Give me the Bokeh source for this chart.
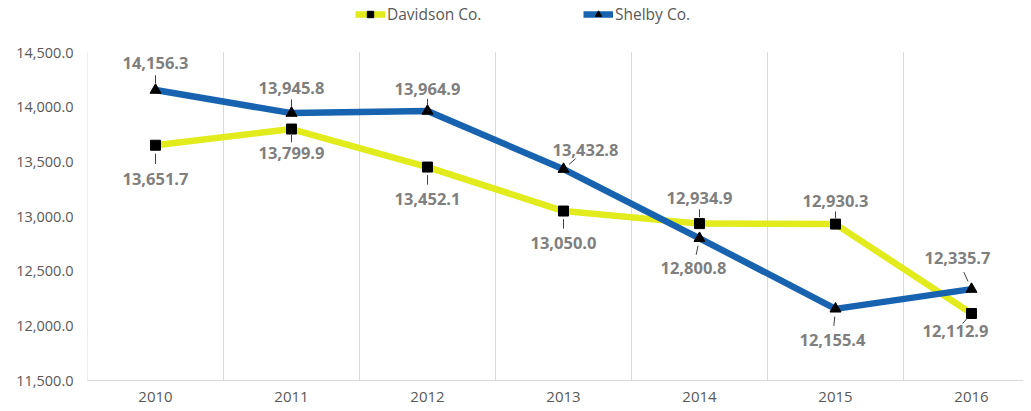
from bokeh.plotting import figure
from bokeh.models import (ColumnDataSource, FixedTicker, Legend, LegendItem,
                          NumeralTickFormatter, Range1d)
from bokeh.core.properties import value
from bokeh.embed import file_html
from bokeh.resources import INLINE

years = ["2010", "2011", "2012", "2013", "2014", "2015", "2016"]
davidson = [13651.7, 13799.9, 13452.1, 13050.0, 12934.9, 12930.3, 12112.9]
shelby = [14156.3, 13945.8, 13964.9, 13432.8, 12800.8, 12155.4, 12335.7]
y_ticks = [11500, 12000, 12500, 13000, 13500, 14000, 14500]
y_min, y_max = 11500, 14500

# label offsets in pixels (dx, dy) - screen down is positive dy
dav_off = [(0, 34), (0, 24), (0, 32), (0, 32), (0, -26), (0, -23), (-16, 18)]
she_off = [(0, -27), (0, -25), (0, -22), (22, -19), (-6, 30), (-3, 31), (-14, -31)]

YELLOW = "#E2EB1C"
BLUE = "#1763B0"
GRAY_TXT = "#7F7F7F"
AXIS_TXT = "#595959"
FONT = "Open Sans"

xs = list(range(len(years)))

W, H = 1023, 409
LEFT, BOTTOM = 87, 29
TOP_PAD = 52          # pixels above the 14,500 level inside the frame
PLOT_H = H - BOTTOM - TOP_PAD
px_y = PLOT_H / float(y_max - y_min)
frame_w = W - LEFT
px_x = 136.0
x_hi = frame_w / px_x - 0.5

p = figure(width=W, height=H, output_backend="svg", toolbar_location=None,
           x_range=Range1d(-0.5, x_hi),
           y_range=Range1d(y_min, y_max + TOP_PAD / px_y),
           min_border_left=LEFT, min_border_right=0, min_border_top=0,
           min_border_bottom=BOTTOM)
p.outline_line_color = None
p.background_fill_color = "white"
p.border_fill_color = "white"
p.xgrid.grid_line_color = None
p.ygrid.grid_line_color = None

# vertical gridlines at category boundaries (14,500 down to 11,500)
bounds = [i - 0.5 for i in range(len(years) + 1)]
p.segment(x0=bounds, y0=[y_min] * len(bounds), x1=bounds, y1=[y_max] * len(bounds),
          line_color="#D9D9D9", line_width=1)

p.xaxis.ticker = FixedTicker(ticks=xs)
p.xaxis.major_label_overrides = {i: y for i, y in enumerate(years)}
p.xaxis.axis_line_color = "#D9D9D9"
p.xaxis.major_tick_line_color = None
p.xaxis.minor_tick_line_color = None
p.xaxis.major_tick_out = 0
p.xaxis.major_tick_in = 0
p.xaxis.major_label_text_font = FONT
p.xaxis.major_label_text_font_size = "15px"
p.xaxis.major_label_text_color = AXIS_TXT
p.xaxis.major_label_standoff = 11

p.yaxis.ticker = FixedTicker(ticks=y_ticks)
p.yaxis.formatter = NumeralTickFormatter(format="0,0.0")
p.yaxis.axis_line_color = None
p.yaxis.major_tick_line_color = None
p.yaxis.minor_tick_line_color = None
p.yaxis.major_tick_out = 0
p.yaxis.major_tick_in = 0
p.yaxis.major_label_text_font = FONT
p.yaxis.major_label_text_font_size = "14.5px"
p.yaxis.major_label_text_color = AXIS_TXT
p.yaxis.major_label_standoff = 14


def leader_and_labels(vals, offs):
    x0, y0, x1, y1 = [], [], [], []
    tx, ty, txt, dxs, dys = [], [], [], [], []
    for i, (v, (dx, dy)) in enumerate(zip(vals, offs)):
        frac_s, frac_e = 0.25, 0.55
        x0.append(i + dx * frac_s / px_x)
        y0.append(v - dy * frac_s / px_y)
        x1.append(i + dx * frac_e / px_x)
        y1.append(v - dy * frac_e / px_y)
        tx.append(i)
        ty.append(v)
        txt.append(f"{v:,.1f}")
        dxs.append(dx)
        dys.append(dy)
    return (dict(x0=x0, y0=y0, x1=x1, y1=y1),
            dict(x=tx, y=ty, t=txt, dx=dxs, dy=dys))


dl = ColumnDataSource(dict(x=xs, y=davidson))
sl = ColumnDataSource(dict(x=xs, y=shelby))

r_dl = p.line("x", "y", source=dl, line_color=YELLOW, line_width=6.5, line_join="round")
r_ds = p.scatter("x", "y", source=dl, marker="square", size=10, fill_color="black", line_color="black")
r_sl = p.line("x", "y", source=sl, line_color=BLUE, line_width=6.5, line_join="round")
r_ss = p.scatter("x", "y", source=sl, marker="triangle", size=11, fill_color="black", line_color="black")

for vals, offs in ((davidson, dav_off), (shelby, she_off)):
    seg, lab = leader_and_labels(vals, offs)
    p.segment("x0", "y0", "x1", "y1", source=ColumnDataSource(seg),
              line_color="#404040", line_width=1)
    p.text("x", "y", text="t", source=ColumnDataSource(lab),
           x_offset="dx", y_offset="dy", text_align="center",
           text_baseline="middle", text_font=value(FONT),
           text_font_size="16.5px", text_font_style="bold", text_color=GRAY_TXT)

frame_h = H - BOTTOM


def make_legend(label, renderers, x_px):
    lg = Legend(items=[LegendItem(label=label, renderers=renderers)],
                orientation="horizontal", location=(x_px - LEFT, frame_h - 25),
                label_text_font=FONT, label_text_font_size="15.5px",
                label_text_color=AXIS_TXT, glyph_width=30, glyph_height=16,
                label_standoff=2, padding=0, margin=0,
                border_line_color=None, background_fill_alpha=0)
    p.add_layout(lg, "center")


make_legend("Davidson Co.", [r_dl, r_ds], 355)
make_legend("Shelby Co.", [r_sl, r_ss], 583)

open("out.html", "w").write(file_html(p, INLINE))
